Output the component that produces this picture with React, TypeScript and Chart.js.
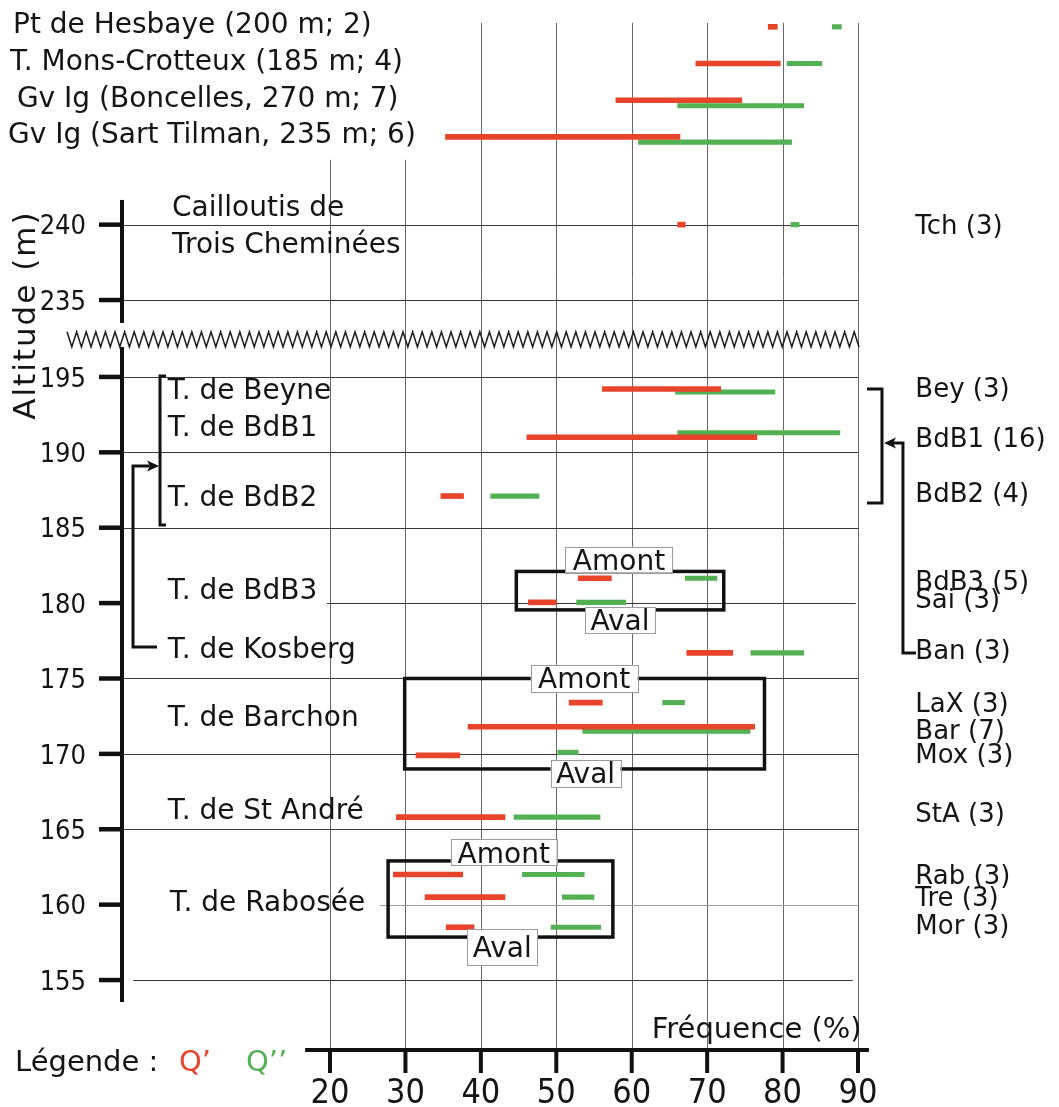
import React, { useEffect, useRef } from "react";
import { Chart, registerables } from "chart.js";

Chart.register(...registerables);

// ---------------- data ----------------
// header rows (sites listed above the broken altitude axis)
const headerLabels = [
  "Pt de Hesbaye (200 m; 2)",
  "T. Mons-Crotteux (185 m; 4)",
  " Gv Ig (Boncelles, 270 m; 7)",
  "Gv Ig (Sart Tilman, 235 m; 6)",
];
const headerQ1: [number, number][] = [
  [78.1, 79.3],
  [68.5, 79.7],
  [57.9, 74.6],
  [35.3, 66.4],
];
const headerQ2: [number, number][] = [
  [86.6, 87.8],
  [80.6, 85.2],
  [66.1, 82.8],
  [60.9, 81.2],
];
const headerQ2Drop = [0, 0, 0.37, 0.35];

// dated sites (altitude in m, frequency range in %)
const siteCodes = [
  "Tch (3)", "Bey (3)", "BdB1 (16)", "BdB2 (4)", "BdB3 (5)", "Sai (3)", "Ban (3)",
  "LaX (3)", "Bar (7)", "Mox (3)", "StA (3)", "Rab (3)", "Tre (3)", "Mor (3)",
];
const siteCodeAlt = [240, 194.3, 191.0, 187.3, 181.5, 180.3, 176.9, 173.4, 171.6, 170.0, 166.1, 162.0, 160.5, 158.7];
const q1Alt = [240, 194.2, 191.0, 187.1, 181.65, 180.05, 176.7, 173.4, 171.8, 169.9, 165.8, 162.0, 160.5, 158.5];
const q1Range: [number, number][] = [
  [66.1, 67.1], [56.1, 71.8], [46.1, 76.6], [34.7, 37.7], [52.9, 57.3], [46.3, 50.0], [67.3, 73.4],
  [51.7, 56.1], [38.3, 76.3], [31.4, 37.2], [28.8, 43.2], [28.4, 37.6], [32.6, 43.2], [35.4, 39.1],
];
const q2Alt = [240, 194.0, 191.3, 187.1, 181.65, 180.05, 176.7, 173.4, 171.5, 170.1, 165.8, 162.0, 160.5, 158.5];
const q2Range: [number, number][] = [
  [81.1, 82.2], [65.8, 79.0], [66.1, 87.6], [41.3, 47.7], [67.1, 71.3], [52.7, 59.2], [75.8, 82.8],
  [64.1, 67.0], [53.5, 75.7], [50.2, 52.9], [44.4, 55.8], [45.5, 53.7], [50.8, 55.0], [49.3, 55.9],
];

const terraceLabels = [
  "T. de Beyne", "T. de BdB1", "T. de BdB2", "T. de BdB3", "T. de Kosberg",
  "T. de Barchon", "T. de St André", "T. de Rabosée",
];
const terraceAlt = [194.2, 191.75, 187.1, 180.94, 177.05, 172.51, 166.34, 160.24];

const yTicksUpper = [240, 235];
const yTicksLower = [195, 190, 185, 180, 175, 170, 165, 160, 155];
const xTicks = [20, 30, 40, 50, 60, 70, 80, 90];

// ---------------- layout / style ----------------
const W = 1059;
const H = 1107;
const RED = "#e8432b";
const GREEN = "#53b153";
const INK = "#151515";
const FONT = '"DejaVu Sans", "Liberation Sans", sans-serif';
const NARROW = '"Liberation Sans Narrow", "DejaVu Sans Condensed", "Arial Narrow", sans-serif';

const X_MIN = -7.58;
const X_MAX = 90;
const Y_MIN = 150.36;
const Y_MAX = 220.0;
const BREAK_SHIFT = 34.9; // upper part of the broken axis
const toAxis = (alt: number) => (alt >= 220 ? alt - BREAK_SHIFT : alt);
const HEADER_TOP = 218.22;
const HEADER_STEP = 2.433;
const headerPos = (i: number) => HEADER_TOP - i * HEADER_STEP;

const GRID_TOP_FULL = 218.48;
const GRID_TOP_SHORT = 209.4;
const gridStart: Record<number, number> = { 180: 19.6, 160: 26.6, 155: -6.1 };
const gridEnd: Record<number, number> = { 180: 89.7, 155: 89.3 };

const groupBoxes = [
  { x0: 44.7, x1: 72.2, top: 182.1, bottom: 179.55,
    amont: { x: 58.31, alt: 182.88, w: 107, h: 26 }, aval: { x: 58.45, alt: 178.86, w: 70, h: 26 } },
  { x0: 29.9, x1: 77.6, top: 175.0, bottom: 169.0,
    amont: { x: 53.7, alt: 175.01, w: 107, h: 27 }, aval: { x: 53.88, alt: 168.71, w: 70, h: 27 } },
  { x0: 27.7, x1: 57.5, top: 162.9, bottom: 157.85,
    amont: { x: 43.03, alt: 163.46, w: 106, h: 26 }, aval: { x: 42.84, alt: 157.19, w: 70, h: 36 } },
];

function txt(ctx: CanvasRenderingContext2D, s: string, x: number, cy: number, size: number,
  family = FONT, align: CanvasTextAlign = "left", color = INK) {
  ctx.font = `${size}px ${family}`;
  ctx.fillStyle = color;
  ctx.textAlign = align;
  ctx.textBaseline = "alphabetic";
  ctx.fillText(s, x, cy + size * 0.36);
}

function seg(ctx: CanvasRenderingContext2D, x0: number, y0: number, x1: number, y1: number) {
  ctx.beginPath();
  ctx.moveTo(x0, y0);
  ctx.lineTo(x1, y1);
  ctx.stroke();
}

const figurePlugin = {
  id: "figure",
  beforeDatasetsDraw(chart: any) {
    const ctx: CanvasRenderingContext2D = chart.ctx;
    const xs = chart.scales.x;
    const ys = chart.scales.y;
    const X = (v: number) => xs.getPixelForValue(v);
    const YV = (v: number) => ys.getPixelForValue(v);
    const YA = (a: number) => YV(toAxis(a));
    ctx.save();
    // vertical grid
    ctx.strokeStyle = "#6f6464";
    ctx.lineWidth = 1;
    xTicks.forEach((t) => {
      const px = Math.round(X(t)) + 0.5;
      seg(ctx, px, YV(t < 40 ? GRID_TOP_SHORT : GRID_TOP_FULL), px, YV(Y_MIN));
    });
    // horizontal grid
    [...yTicksUpper, ...yTicksLower].forEach((a) => {
      const py = Math.round(YA(a)) + 0.5;
      ctx.strokeStyle = a === 160 ? "#a0a0a0" : "#3a3a3a";
      ctx.lineWidth = 1.2;
      seg(ctx, X(gridStart[a] ?? X_MIN), py, X(gridEnd[a] ?? X_MAX), py);
    });
    ctx.restore();
  },
  afterDatasetsDraw(chart: any) {
    const ctx: CanvasRenderingContext2D = chart.ctx;
    const xs = chart.scales.x;
    const ys = chart.scales.y;
    const X = (v: number) => xs.getPixelForValue(v);
    const YV = (v: number) => ys.getPixelForValue(v);
    const YA = (a: number) => YV(toAxis(a));
    const axisX = X(X_MIN);
    ctx.save();
    ctx.lineCap = "butt";

    // group boxes (Amont / Aval)
    groupBoxes.forEach((b) => {
      ctx.strokeStyle = "#111";
      ctx.lineWidth = 3.5;
      ctx.strokeRect(X(b.x0), YA(b.top), X(b.x1) - X(b.x0), YA(b.bottom) - YA(b.top));
      [["Amont", b.amont], ["Aval", b.aval]].forEach(([label, l]: any) => {
        const cx = X(l.x);
        const cy = YA(l.alt);
        ctx.fillStyle = "#fff";
        ctx.fillRect(cx - l.w / 2, cy - l.h / 2, l.w, l.h);
        ctx.strokeStyle = "#9a9a9a";
        ctx.lineWidth = 1;
        ctx.strokeRect(Math.round(cx - l.w / 2) + 0.5, Math.round(cy - l.h / 2) + 0.5, l.w, l.h);
        txt(ctx, label, cx, cy, 28, FONT, "center");
      });
    });

    // y axis (broken)
    ctx.strokeStyle = "#111";
    ctx.lineWidth = 4;
    seg(ctx, axisX, YA(241.64), axisX, YA(233.48));
    seg(ctx, axisX, YV(196.99), axisX, YA(153.54));
    [...yTicksUpper, ...yTicksLower].forEach((a) => {
      const py = YA(a);
      ctx.lineWidth = 4.5;
      seg(ctx, axisX - 23, py, axisX, py);
      txt(ctx, String(a), axisX - 36, py, 27, NARROW, "right");
    });

    // zigzag break
    ctx.lineWidth = 1.6;
    ctx.strokeStyle = "#222";
    ctx.lineJoin = "miter";
    const zx0 = X(-14.87);
    const zx1 = X(90.66);
    const zTop = YV(197.99);
    const zBot = YV(196.99);
    const half = 4.8;
    ctx.beginPath();
    let k = 0;
    for (let x = zx0; x <= zx1 + 0.01; x += half, k++) {
      const y = k % 2 === 0 ? zTop : zBot;
      if (k === 0) ctx.moveTo(x, y);
      else ctx.lineTo(x, y);
    }
    ctx.stroke();

    // x axis (bottom)
    const by = YV(Y_MIN);
    ctx.lineWidth = 4;
    ctx.strokeStyle = "#111";
    seg(ctx, X(16.7), by, X(91.45), by);
    xTicks.forEach((t) => {
      ctx.lineWidth = 4;
      seg(ctx, X(t), by, X(t), by + 23);
      txt(ctx, String(t), X(t), by + 40.5, 34, NARROW, "center");
    });
    txt(ctx, "Fréquence (%)", X(60) + 20, by - 22.5, 29);
    txt(ctx, "Légende :", 15, by + 11, 29);
    txt(ctx, "Q’", 179, by + 11, 29, FONT, "left", RED);
    txt(ctx, "Q’’", 246, by + 11, 29, FONT, "left", GREEN);

    // axis title
    ctx.save();
    ctx.translate(24, YA(180) - 288);
    ctx.rotate(-Math.PI / 2);
    (ctx as any).letterSpacing = "2px";
    txt(ctx, "Altitude (m)", 0, 0, 31, FONT, "center");
    (ctx as any).letterSpacing = "0px";
    ctx.restore();

    // header labels
    const headerX = [13, 10, 8, 8];
    headerLabels.forEach((s, i) => {
      txt(ctx, s, headerX[i], YV(headerPos(i) + 0.25), 28);
    });

    // Cailloutis
    txt(ctx, "Cailloutis de", X(-0.95), YA(241.21), 28);
    txt(ctx, "Trois Cheminées", X(-0.95), YA(238.82), 28);

    // terrace labels
    terraceLabels.forEach((s, i) => {
      txt(ctx, s, X(i === 7 ? -1.25 : -1.5), YA(terraceAlt[i]), 28);
    });

    // site codes
    siteCodes.forEach((s, i) => {
      txt(ctx, s, X(97.6), YA(siteCodeAlt[i]), 26);
    });

    // left bracket + arrow (Kosberg)
    ctx.strokeStyle = "#111";
    ctx.lineWidth = 3;
    ctx.lineJoin = "miter";
    ctx.beginPath();
    ctx.moveTo(X(-1.74), YA(195.07));
    ctx.lineTo(X(-2.54), YA(195.07));
    ctx.lineTo(X(-2.54), YA(185.18));
    ctx.lineTo(X(-1.74), YA(185.18));
    ctx.stroke();
    ctx.beginPath();
    ctx.moveTo(X(-2.94), YA(177.09));
    ctx.lineTo(X(-6.12), YA(177.09));
    ctx.lineTo(X(-6.12), YA(189.1));
    ctx.lineTo(X(-3.9), YA(189.1));
    ctx.stroke();
    const tipL = X(-2.67);
    const ay = YA(189.1);
    ctx.fillStyle = "#111";
    ctx.beginPath();
    ctx.moveTo(tipL, ay);
    ctx.lineTo(tipL - 12, ay - 5.5);
    ctx.lineTo(tipL - 9, ay);
    ctx.lineTo(tipL - 12, ay + 5.5);
    ctx.closePath();
    ctx.fill();

    // right bracket + arrow (Ban)
    ctx.beginPath();
    ctx.moveTo(X(91.19), YA(194.2));
    ctx.lineTo(X(93.18), YA(194.2));
    ctx.lineTo(X(93.18), YA(186.64));
    ctx.lineTo(X(91.19), YA(186.64));
    ctx.stroke();
    ctx.beginPath();
    ctx.moveTo(X(97.69), YA(176.69));
    ctx.lineTo(X(95.96), YA(176.69));
    ctx.lineTo(X(95.96), YA(190.62));
    ctx.lineTo(X(94.6), YA(190.62));
    ctx.stroke();
    const tipR = X(93.45);
    const ry = YA(190.62);
    ctx.beginPath();
    ctx.moveTo(tipR, ry);
    ctx.lineTo(tipR + 12, ry - 5.5);
    ctx.lineTo(tipR + 9, ry);
    ctx.lineTo(tipR + 12, ry + 5.5);
    ctx.closePath();
    ctx.fill();

    ctx.restore();
  },
};

export default function App() {
  const ref = useRef<HTMLCanvasElement | null>(null);
  useEffect(() => {
    if (!ref.current) return;
    const redData = [
      ...headerQ1.map((r, i) => ({ x: r, y: headerPos(i) })),
      ...q1Range.map((r, i) => ({ x: r, y: toAxis(q1Alt[i]) })),
    ];
    const greenData = [
      ...headerQ2.map((r, i) => ({ x: r, y: headerPos(i) - headerQ2Drop[i] })),
      ...q2Range.map((r, i) => ({ x: r, y: toAxis(q2Alt[i]) })),
    ];
    const chart = new Chart(ref.current, {
      type: "bar",
      data: {
        datasets: [
          { label: "Q’", data: redData as any, backgroundColor: RED, barThickness: 5, grouped: false, borderWidth: 0 },
          { label: "Q’’", data: greenData as any, backgroundColor: GREEN, barThickness: 4.5, grouped: false, borderWidth: 0 },
        ],
      },
      options: {
        indexAxis: "y",
        responsive: false,
        animation: false,
        devicePixelRatio: 1,
        events: [],
        layout: { padding: { left: 122, right: W - 858, top: 0, bottom: H - 1050 } },
        scales: {
          x: { type: "linear", min: X_MIN, max: X_MAX, display: false, offset: false },
          y: { type: "linear", min: Y_MIN, max: Y_MAX, display: false, offset: false },
        },
        plugins: { legend: { display: false }, tooltip: { enabled: false } },
      },
      plugins: [figurePlugin],
    } as any);
    return () => chart.destroy();
  }, []);
  return (
    <div style={{ position: "absolute", left: 0, top: 0, width: W, height: H, background: "#fff" }}>
      <canvas ref={ref} width={W} height={H} style={{ width: W, height: H, display: "block" }} />
    </div>
  );
}
